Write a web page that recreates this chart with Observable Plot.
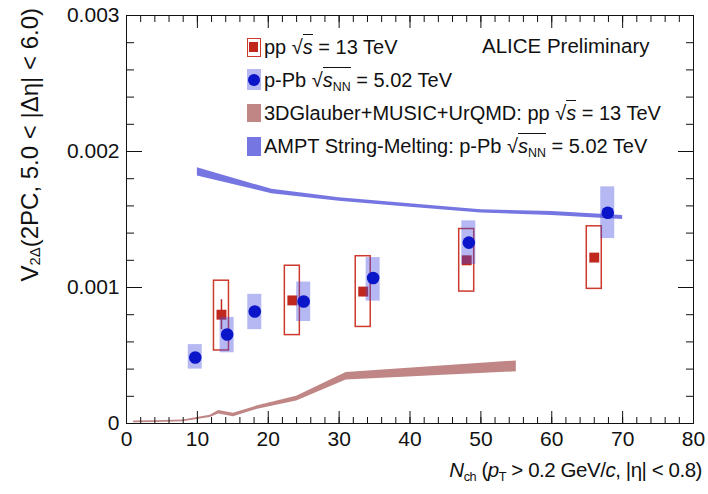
<!DOCTYPE html>
<html>
<head>
<meta charset="utf-8">
<script src="https://cdn.jsdelivr.net/npm/d3@7"></script>
<script src="https://cdn.jsdelivr.net/npm/@observablehq/plot@0.6"></script>
<style>
  body { margin: 0; background: white; }
  #wrap { position: relative; width: 708px; height: 494px; font-family: "Liberation Sans", Arial, sans-serif; color: #111; }
  #wrap svg { position: absolute; left: 0; top: 0; }
  .ov { position: absolute; white-space: nowrap; line-height: 1; }
  .leg { font-size: 20px; left: 247px; display: flex; align-items: center; }
  .sw { position: relative; width: 14px; margin-right: 3px; box-sizing: border-box; }
  .rad { font-style: normal; }
  .ol { border-top: 1.2px solid #111; padding-top: 1px; }
  sub { font-size: 0.62em; vertical-align: -0.35em; line-height: 0; }
</style>
</head>
<body>
<div id="wrap"></div>
<script>
// ---- data ----
const ppX     = [13.4, 23.4, 33.4, 48.0, 66.0];
const ppY     = [0.00080, 0.000905, 0.00097, 0.00120, 0.00122];
const ppStat  = [0.00011, 0.00002, 0.00002, 0.00001, 0.00001];
const ppSysLo = [0.000537, 0.00065, 0.00071, 0.00097, 0.00099];
const ppSysHi = [0.00105, 0.00116, 0.00123, 0.00143, 0.00145];

const pPbX     = [9.7, 14.2, 18.1, 25.0, 34.8, 48.3, 67.9];
const pPbY     = [0.000485, 0.000654, 0.000824, 0.000897, 0.00107, 0.00133, 0.00155];
const pPbSysLo = [0.00040, 0.00052, 0.00069, 0.00075, 0.00090, 0.00117, 0.00136];
const pPbSysHi = [0.00058, 0.00078, 0.00095, 0.00104, 0.00122, 0.00149, 0.00174];

const amptX  = [10, 20.5, 30, 40, 50, 60, 70];
const amptLo = [0.00182, 0.00169, 0.001635, 0.00159, 0.001547, 0.00153, 0.00150];
const amptHi = [0.00188, 0.001722, 0.00166, 0.001615, 0.001572, 0.001558, 0.00153];

const glX  = [1, 4, 8, 10, 11.8, 13, 15.1, 18.5, 24, 31, 55];
const glLo = [0.000005, 0.000008, 0.000012, 0.00003, 0.000045, 0.00007, 0.00005, 0.000105, 0.000165, 0.00032, 0.00038];
const glHi = [0.000018, 0.00002, 0.000025, 0.000045, 0.00006, 0.000095, 0.000075, 0.00013, 0.0002, 0.000375, 0.00046];

const xMajor = [0, 10, 20, 30, 40, 50, 60, 70, 80];
const xMinor = d3.range(0, 81, 2);
const yMajor = [0, 0.001, 0.002, 0.003];
const yMinor = d3.range(0, 0.00301, 0.0002);
const yTickLabels = ["0", "0.001", "0.002", "0.003"];

// ---- tables ----
const pp = ppX.map((x, i) => ({x, y: ppY[i], stat: ppStat[i], lo: ppSysLo[i], hi: ppSysHi[i]}));
const pPb = pPbX.map((x, i) => ({x, y: pPbY[i], lo: pPbSysLo[i], hi: pPbSysHi[i]}));
const ampt = amptX.map((x, i) => ({x, lo: amptLo[i], hi: amptHi[i]}));
const gl = glX.map((x, i) => ({x, lo: glLo[i], hi: glHi[i]}));

const cRed = "#c0281e", cRedBox = "#cc3a2e", cBlue = "#0a14c8", cBlueBox = "rgba(70,78,222,0.40)";
const cGl = "#c08686", cAmpt = "#7676e2";

const tickOpts = {text: null, label: null, stroke: "#111", strokeWidth: 1};
const plot = Plot.plot({
  width: 708, height: 494,
  marginLeft: 126, marginRight: 15, marginTop: 15, marginBottom: 71,
  style: {fontFamily: "Liberation Sans, Arial, sans-serif", fontSize: "21px", color: "#111", background: "transparent", overflow: "visible"},
  x: {domain: [0, 80]},
  y: {domain: [0, 0.003]},
  marks: [
    Plot.areaY(gl, {x: "x", y1: "lo", y2: "hi", fill: cGl}),
    Plot.areaY(ampt, {x: "x", y1: "lo", y2: "hi", fill: cAmpt}),
    Plot.rect(pp, {x1: "x", x2: "x", y1: "lo", y2: "hi", insetLeft: -7.5, insetRight: -7.5, fill: "none", stroke: cRedBox, strokeWidth: 1.5}),
    Plot.ruleX(pp, {x: "x", y1: d => d.y - d.stat, y2: d => d.y + d.stat, stroke: cRed, strokeWidth: 1.5}),
    Plot.dot(pp, {x: "x", y: "y", symbol: "square", r: 5.6, fill: cRed, stroke: "none"}),
    Plot.rect(pPb, {x1: "x", x2: "x", y1: "lo", y2: "hi", insetLeft: -7, insetRight: -7, fill: cBlueBox}),
    Plot.dot(pPb, {x: "x", y: "y", r: 6.3, fill: cBlue, stroke: "none"}),
    Plot.frame({stroke: "#111", strokeWidth: 1}),
    // bottom / top ticks (inward)
    Plot.axisX(xMajor, {anchor: "bottom", tickSize: -12, ...tickOpts}),
    Plot.axisX(xMinor, {anchor: "bottom", tickSize: -6, ...tickOpts}),
    Plot.axisX(xMajor, {anchor: "top", tickSize: -12, ...tickOpts}),
    Plot.axisX(xMinor, {anchor: "top", tickSize: -6, ...tickOpts}),
    Plot.axisY(yMajor, {anchor: "left", tickSize: -16, ...tickOpts}),
    Plot.axisY(yMinor, {anchor: "left", tickSize: -8, ...tickOpts}),
    Plot.axisY(yMajor, {anchor: "right", tickSize: -16, ...tickOpts}),
    Plot.axisY(yMinor, {anchor: "right", tickSize: -8, ...tickOpts}),
    // labels
    Plot.axisX(xMajor, {anchor: "bottom", tickSize: 0, tickPadding: 8, tickFormat: d => String(d), label: null, fontSize: 21}),
    Plot.axisY(yMajor, {anchor: "left", tickSize: 0, tickPadding: 7, tickFormat: (d, i) => yTickLabels[i], label: null, fontSize: 21})
  ]
});
const wrap = document.getElementById("wrap");
wrap.appendChild(plot);

const S = '<i class="ol">s</i>';
const SNN = '<span class="ol"><i>s</i><sub>NN</sub></span>';
const html = `
<div class="ov" style="left:18px; top:8px; font-size:24px; writing-mode: vertical-rl; transform: rotate(180deg);">V<sub>2&Delta;</sub>(2PC, 5.0 &lt; |&Delta;&eta;| &lt; 6.0)</div>
<div class="ov" style="right:6px; top:460px; font-size:20.5px; letter-spacing:-0.45px;"><i>N</i><sub>ch</sub> (<i>p</i><sub>T</sub> &gt; 0.2 GeV/<i>c</i>, |&eta;| &lt; 0.8)</div>
<div class="ov" style="left:482px; top:36px; font-size:20.5px;">ALICE Preliminary</div>
<div class="ov leg" style="top:37px;">
  <span class="sw" style="height:19px; border:1.5px solid ${cRedBox};"><span style="position:absolute; left:1px; top:3px; width:9px; height:10px; background:${cRed};"></span></span>
  <span>pp <span class="rad">&radic;</span>${S} = 13 TeV</span></div>
<div class="ov leg" style="top:69px;">
  <span class="sw" style="height:21px; background:rgba(70,78,222,0.40);"><span style="position:absolute; left:1px; top:4.5px; width:12px; height:12px; border-radius:50%; background:${cBlue};"></span></span>
  <span>p-Pb <span class="rad">&radic;</span>${SNN} = 5.02 TeV</span></div>
<div class="ov leg" style="top:103px;">
  <span class="sw" style="height:18px; background:${cGl};"></span>
  <span>3DGlauber+MUSIC+UrQMD: pp <span class="rad">&radic;</span>${S} = 13 TeV</span></div>
<div class="ov leg" style="top:136px;">
  <span class="sw" style="height:19px; background:${cAmpt};"></span>
  <span>AMPT String-Melting: p-Pb <span class="rad">&radic;</span>${SNN} = 5.02 TeV</span></div>
`;
wrap.insertAdjacentHTML("beforeend", html);
</script>
</body>
</html>
